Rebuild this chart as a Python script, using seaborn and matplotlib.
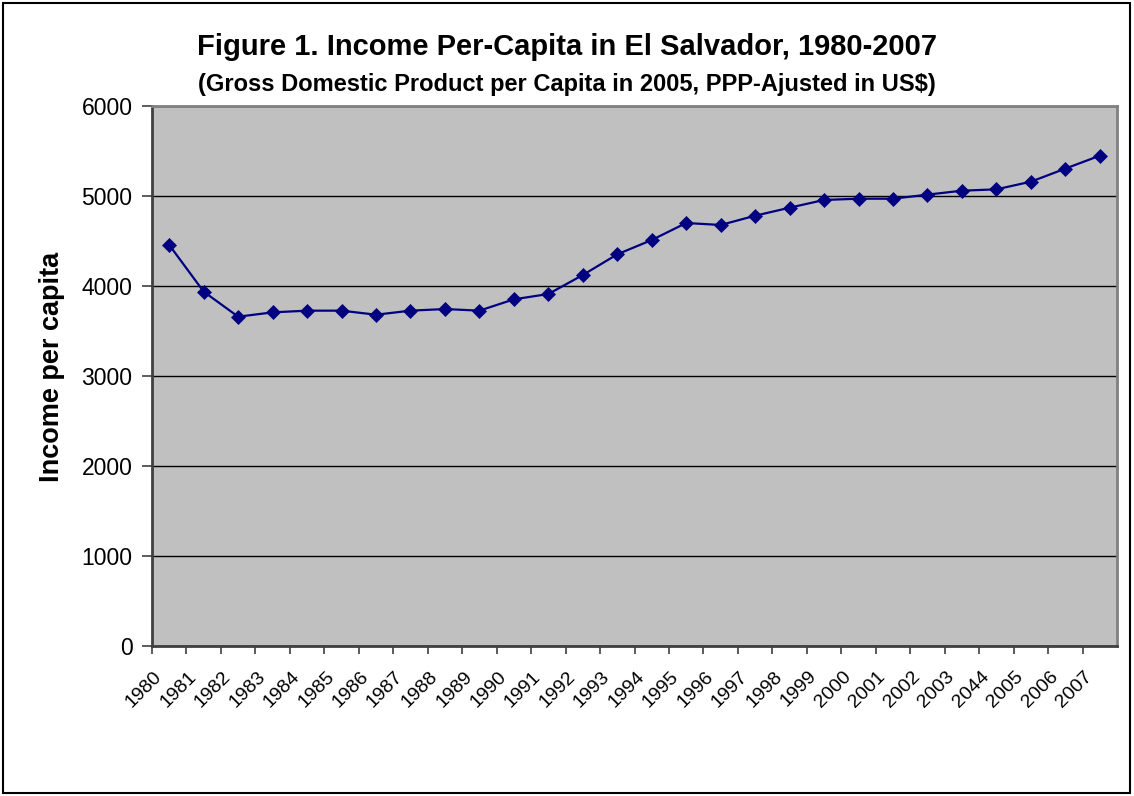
import matplotlib
matplotlib.use("Agg")
import matplotlib.pyplot as plt
from matplotlib.patches import Rectangle
from matplotlib.ticker import FixedLocator
from matplotlib.transforms import ScaledTranslation
import pandas as pd
import seaborn as sns

# Year labels as printed on the category axis
years = ["1980", "1981", "1982", "1983", "1984", "1985", "1986", "1987",
         "1988", "1989", "1990", "1991", "1992", "1993", "1994", "1995",
         "1996", "1997", "1998", "1999", "2000", "2001", "2002", "2003",
         "2044", "2005", "2006", "2007"]

# GDP per capita (2005 PPP US$)
income = [4456, 3937, 3659, 3707, 3726, 3726, 3681, 3726,
          3744, 3726, 3852, 3911, 4122, 4352, 4511, 4700,
          4678, 4781, 4870, 4956, 4970, 4970, 5015, 5059,
          5074, 5159, 5304, 5448]

y_ticks = [0, 1000, 2000, 3000, 4000, 5000, 6000]

df = pd.DataFrame({"year": years, "income": income})

sns.set_theme(style="white")
plt.rcParams["font.family"] = ["Liberation Sans", "DejaVu Sans"]
for key in ["text.color", "axes.labelcolor", "xtick.color", "ytick.color"]:
    plt.rcParams[key] = "black"

fig = plt.figure(figsize=(11.34, 7.96), dpi=100)
ax = fig.add_axes([152 / 1134, 1 - 646 / 796, (1117 - 152) / 1134, (646 - 106) / 796])
ax.set_facecolor("#C0C0C0")

ax.set_axisbelow(True)
ax.yaxis.grid(True, color="black", linewidth=1.0)
ax.xaxis.grid(False)

sns.lineplot(data=df, x="year", y="income", ax=ax, color="#000080",
             linewidth=1.6, marker="D", markersize=7.5, markeredgewidth=0.5,
             markeredgecolor="#000080", sort=False, legend=False)

n = len(years)
ax.set_xlim(-0.5, n - 0.5)
ax.set_ylim(y_ticks[0], y_ticks[-1])
ax.set_yticks(y_ticks)
ax.set_yticklabels([str(t) for t in y_ticks], fontsize=16.5)

# Tick marks on category boundaries, labels centred on categories
ax.set_xticks(range(n))
ax.tick_params(axis="x", which="major", length=0, pad=20)
ax.xaxis.set_minor_locator(FixedLocator([i - 0.5 for i in range(n)]))
ax.tick_params(axis="x", which="minor", bottom=True, length=6, width=1.2,
               color="#404040", direction="out")
ax.tick_params(axis="y", left=True, length=7, width=1.2, color="#404040",
               direction="out", pad=7)
ax.set_xticklabels(years, rotation=45, ha="right", va="center",
                   rotation_mode="anchor", fontsize=14)
shift = ScaledTranslation(-10 / 100, 0, fig.dpi_scale_trans)
for lbl in ax.get_xticklabels():
    lbl.set_transform(lbl.get_transform() + shift)

for side in ["left", "bottom"]:
    ax.spines[side].set_color("#404040")
    ax.spines[side].set_linewidth(2)
for side in ["top", "right"]:
    ax.spines[side].set_color("#808080")
    ax.spines[side].set_linewidth(2)

ax.set_xlabel("")
ax.set_ylabel("Income per capita", fontsize=19.5, fontweight="bold", labelpad=12)
ax.yaxis.label.set_y(0.516)

fig.text(0.5, 1 - 47 / 796, "Figure 1. Income Per-Capita in El Salvador, 1980-2007",
         ha="center", va="center", fontsize=21, fontweight="bold")
fig.text(0.5, 1 - 84 / 796, "(Gross Domestic Product per Capita in 2005, PPP-Ajusted in US$)",
         ha="center", va="center", fontsize=17, fontweight="bold")

# Outer chart frame
fig.patches.append(Rectangle((3 / 1134, 3 / 796), 1127 / 1134, 790 / 796,
                             transform=fig.transFigure, fill=False,
                             edgecolor="black", linewidth=1.5))

fig.savefig("out.png", dpi=100)
